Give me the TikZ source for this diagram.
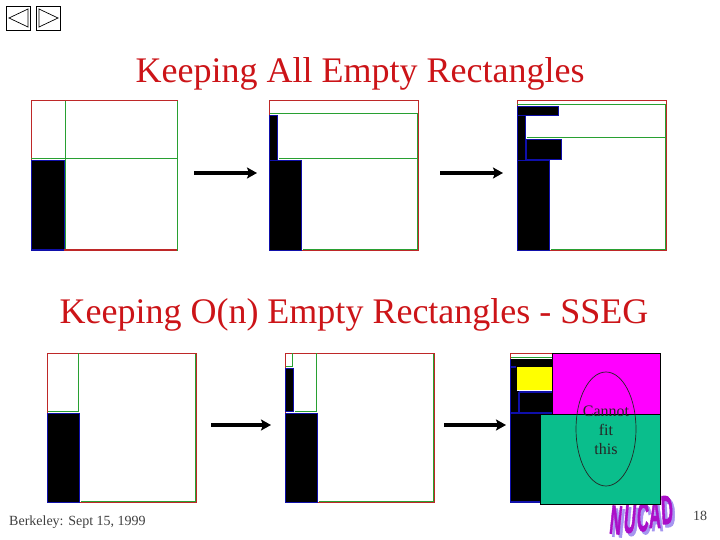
\documentclass[tikz,border=0pt]{standalone}
\usepackage{fontspec}
\setmainfont{Liberation Serif}
\newfontfamily\logofont[FakeBold=2.5]{Liberation Sans Bold}
\definecolor{ttl}{RGB}{204,20,24}
\definecolor{fr}{RGB}{190,40,40}
\definecolor{gl}{RGB}{40,160,50}
\definecolor{bl}{RGB}{15,15,170}
\definecolor{teal}{RGB}{10,190,140}
\definecolor{mag}{RGB}{255,0,255}
\definecolor{yel}{RGB}{255,255,0}
\definecolor{logoA}{RGB}{170,15,200}
\definecolor{logoB}{RGB}{165,150,240}
\tikzset{
  x=1pt,y=-1pt,
  frame/.style={draw=fr,line width=1pt},
  grn/.style={draw=gl,line width=1pt},
  blk/.style={fill=black,draw=bl,line width=1pt},
  flow/.style={-{Stealth[length=10pt,width=11pt,inset=2pt]},line width=3.2pt,black},
  titletext/.style={text=ttl,font=\fontsize{36}{40}\selectfont,anchor=center},
  navbtn/.style={draw=black,line width=0.9pt,fill=white},
  navtri/.style={draw=black,line width=0.7pt},
  lab/.style={font=\fontsize{16}{18}\selectfont,text=black!85,anchor=center},
  foot/.style={font=\fontsize{14}{16}\selectfont,text=black!75},
  logoS/.style={font=\logofont\fontsize{27}{28}\selectfont,text=logoB,anchor=center},
  logoF/.style={font=\logofont\fontsize{27}{28}\selectfont,text=logoA,anchor=center}
}
\usetikzlibrary{arrows.meta}
\begin{document}
\begin{tikzpicture}
\useasboundingbox (0,0) rectangle (720,540);
\fill[white] (0,0) rectangle (720,540);
% nav buttons
\draw[navbtn] (6.5,6.5) rectangle (30.5,30.5);
\draw[navtri] (28,9) -- (9,18) -- (28,27) -- cycle;
\draw[navbtn] (36.5,6.5) rectangle (60.5,30.5);
\draw[navtri] (39,9) -- (58,18) -- (39,27) -- cycle;
% titles
\node[titletext] (title1) at (360,74) {Keeping All Empty Rectangles};
\node[titletext] (title2) at (354,315) {Keeping O(n) Empty Rectangles - SSEG};
% panel 1
\draw[frame] (31,101) rectangle (177,250);
\draw[grn] (65,101) -- (65,250) -- (177,250) -- (177,101);
\draw[grn] (31,159) -- (177,159);
\draw[blk] (31,161) rectangle (64,250);
\draw[fr,line width=1.8pt] (64,250) -- (177,250);
\draw[bl,line width=1.8pt] (31,250) -- (64,250);
% panel 2
\draw[frame] (269.5,101) rectangle (418,250);
\draw[grn] (269.5,114) -- (417,114) -- (417,249) -- (303,249);
\draw[grn] (279,159) -- (417,159);
\draw[blk] (269.5,116) rectangle (277.5,160.5);
\draw[blk] (269.5,161) rectangle (301.5,250);
% panel 3
\draw[frame] (517,101) rectangle (666,250);
\draw[grn] (517,105) -- (665,105) -- (665,249) -- (551,249);
\draw[grn] (527,138) -- (665,138);
\draw[blk] (517.5,107) rectangle (558.5,115.5);
\draw[blk] (517.5,116) rectangle (525,160.5);
\draw[blk] (526,140) rectangle (561.5,160);
\draw[blk] (517.5,161) rectangle (549.5,250);
% panel 4
\draw[frame] (47.5,353) rectangle (196,502);
\draw[grn] (78.5,353) -- (78.5,411) -- (47.5,411);
\draw[grn] (195.5,354) -- (195.5,501) -- (81,501);
\draw[blk] (47.5,413) rectangle (79,502);
% panel 5
\draw[frame] (285.5,353) rectangle (434,502);
\draw[grn] (292.5,353) -- (292.5,366.5) -- (285.5,366.5);
\draw[grn] (316.5,353) -- (316.5,411) -- (295,411);
\draw[grn] (433.5,354) -- (433.5,501) -- (319,501);
\draw[blk] (285.5,368) rectangle (293.5,411);
\draw[blk] (285.5,413) rectangle (317.5,502);
% logo (shadows first, then letters), behind the teal box
\foreach \c/\x/\y/\r in {N/616/520/-6,U/630/519/-5,C/643/517/-2,A/655/514/0,D/667/510/3}{
  \node[logoS,rotate=\r,yscale=1.5,xscale=0.6] at (\x+2.5,\y+3) {\c};
}
\foreach \c/\x/\y/\r in {N/616/520/-6,U/630/519/-5,C/643/517/-2,A/655/514/0,D/667/510/3}{
  \node[logoF,rotate=\r,yscale=1.5,xscale=0.6] at (\x,\y) {\c};
}
% panel 6
\draw[frame] (510.5,353) -- (660,353);
\draw[fr,line width=1pt] (510.5,353) -- (510.5,359);
\draw[grn] (511,357.5) -- (552,357.5);
\fill[black] (510.5,359) rectangle (552.5,502);
\draw[bl,line width=1.2pt] (510.5,359) -- (510.5,502) -- (541,502);
\draw[bl,line width=1.4pt] (510.5,413) -- (552,413);
\draw[bl,line width=1.2pt] (510.5,367) -- (516,367);
\draw[bl,line width=1.4pt] (519,392) -- (519,412);
\draw[bl,line width=1.2pt] (519,392) -- (552,392);
\draw[white,line width=0.8pt] (517,390.8) -- (552,390.8);
\fill[yel] (517,367) rectangle (552.5,390);
\node[rectangle,fill=mag,draw=black,line width=0.9pt,minimum width=108pt,minimum height=61pt,inner sep=0pt] (big1) at (606.5,384) {};
\node[rectangle,fill=teal,draw=black,line width=0.9pt,minimum width=120pt,minimum height=90pt,inner sep=0pt] (big2) at (600.5,459.5) {};
\draw[black!85,line width=0.7pt] (606,429) ellipse [x radius=30,y radius=57];
\node[lab] (t1) at (606,411) {Cannot};
\node[lab] (t2) at (606,430) {fit};
\node[lab] (t3) at (606,449) {this};
% arrows
\coordinate (a1s) at (194,173); \coordinate (a1e) at (257,173);
\coordinate (a2s) at (440,173); \coordinate (a2e) at (503,173);
\coordinate (a3s) at (211,425); \coordinate (a3e) at (271,425);
\coordinate (a4s) at (444,425); \coordinate (a4e) at (506,425);
\draw[flow] (a1s) -- (a1e);
\draw[flow] (a2s) -- (a2e);
\draw[flow] (a3s) -- (a3e);
\draw[flow] (a4s) -- (a4e);
% footer
\node[foot,anchor=west,inner sep=0pt] (berk) at (9,522.5) {Berkeley: Sept 15, 1999};
\node[foot,anchor=center] (page) at (700,516) {18};
\end{tikzpicture}
\end{document}
